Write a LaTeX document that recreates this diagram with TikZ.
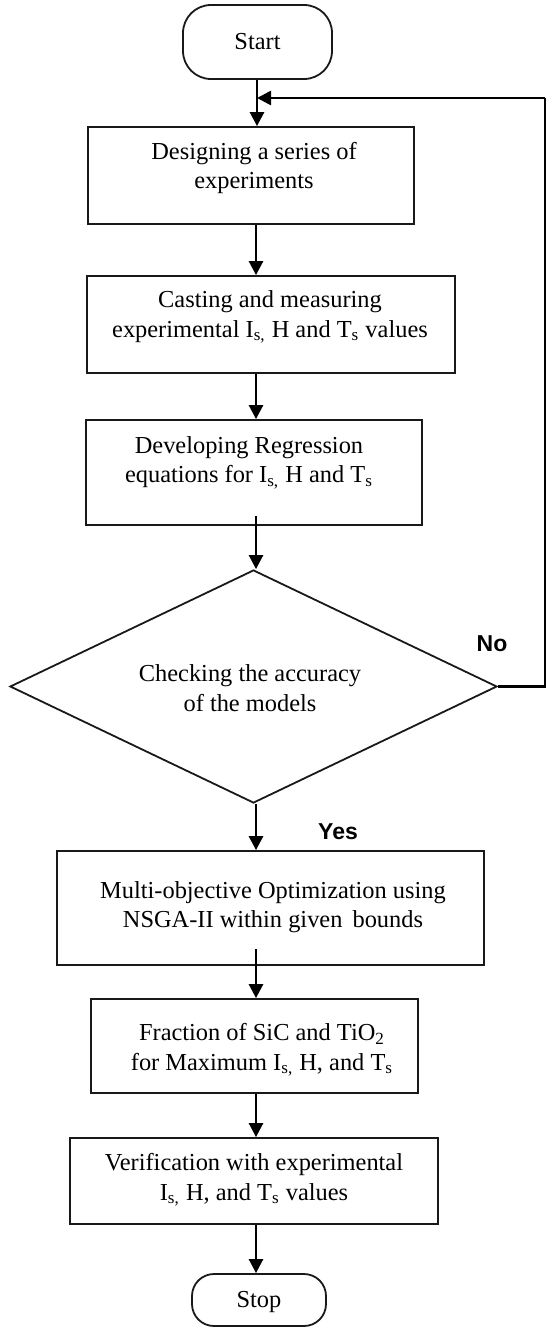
\documentclass[tikz,border=0pt]{standalone}
\usepackage{fontspec}
\setmainfont{Liberation Serif}
\newfontfamily\labelfont{Liberation Sans}
\usetikzlibrary{shapes.geometric,arrows.meta,calc}

\tikzset{
  flowbox/.style={draw=black!90, line width=0.9pt, rectangle, inner sep=0pt},
  termbox/.style={draw=black!90, line width=0.9pt, rectangle, rounded corners=14pt, inner sep=0pt},
  decision/.style={draw=black!90, line width=0.9pt, diamond, inner sep=0pt},
  boxtext/.style={align=center, inner sep=0pt, font=\fontsize{12.2}{14.8}\selectfont},
  answer/.style={inner sep=0pt, font=\labelfont\bfseries\fontsize{11.5}{13}\selectfont},
  flow/.style={line width=1.3pt, -{Triangle[length=7pt,width=7pt]}},
  plainline/.style={line width=1.3pt}
}

\begin{document}
\begin{tikzpicture}[x=0.5pt,y=-0.5pt]
  \useasboundingbox (0,0) rectangle (546,1328);

  % terminals, process boxes and the decision
  \node[termbox, minimum width=74.5pt, minimum height=37pt] (start) at (257.5,42) {};
  \node[boxtext] (tstart) at (257.5,42) {Start};

  \node[flowbox, minimum width=163pt, minimum height=48.5pt] (b1) at (251,175.5) {};
  \node[boxtext] (t1) at (254,168) {Designing a series of\\experiments};

  \node[flowbox, minimum width=184pt, minimum height=48.5pt] (b2) at (271,324.5) {};
  \node[boxtext] (t2) at (270,317) {Casting and measuring\\experimental I\textsubscript{s,} H and T\textsubscript{s} values};

  \node[flowbox, minimum width=168pt, minimum height=52.5pt] (b3) at (254,472.5) {};
  \node[boxtext] (t3) at (249,462.5) {Developing Regression\\equations for I\textsubscript{s,} H and T\textsubscript{s}};

  \node[decision, minimum width=243.5pt, minimum height=116.5pt] (d) at (253.5,686.5) {};
  \node[boxtext] (td) at (250,688) {Checking the accuracy\\of the models};

  \node[flowbox, minimum width=213.5pt, minimum height=57pt] (b4) at (270.5,908) {};
  \node[boxtext] (t4) at (273,907) {Multi-objective Optimization using\\NSGA-II within given\hspace{2pt} bounds};

  \node[flowbox, minimum width=163.5pt, minimum height=47pt] (b5) at (254.5,1046) {};
  \node[boxtext] (t5) at (262,1050) {Fraction of SiC and TiO\textsubscript{2}\\for Maximum I\textsubscript{s,} H, and T\textsubscript{s}};

  \node[flowbox, minimum width=184pt, minimum height=43pt] (b6) at (254,1181) {};
  \node[boxtext] (t6) at (254,1180) {Verification with experimental\\I\textsubscript{s,} H, and T\textsubscript{s} values};

  \node[termbox, minimum width=67pt, minimum height=26pt, rounded corners=11pt] (stop) at (259,1300) {};
  \node[boxtext] (tstop) at (259,1302) {Stop};

  % branch labels
  \node[answer] (yes) at (338,832) {Yes};
  \node[answer] (no) at (492,644) {No};

  % main column of connectors
  \coordinate (col) at (256,0);
  \coordinate (join) at (257,98);
  \coordinate (corner) at (545,98);
  \coordinate (side) at (545,686.5);

  \draw[flow] (start.south -| join) -- (b1.north -| join);
  \draw[flow] (b1.south -| col) -- (b2.north -| col);
  \draw[flow] (b2.south -| col) -- (b3.north -| col);
  \draw[flow, shorten <=-5pt] (b3.south -| col) -- (d.north -| col);
  \draw[flow] (d.south -| col) -- (b4.north -| col);
  \draw[flow, shorten <=-8.5pt] (b4.south -| col) -- (b5.north -| col);
  \draw[flow] (b5.south -| col) -- (b6.north -| col);
  \draw[flow] (b6.south -| col) -- (stop.north -| col);

  % feedback loop on the "No" branch
  \draw[plainline] (d.east) -- (side) -- (corner);
  \draw[flow] (corner) -- (join);
\end{tikzpicture}
\end{document}
